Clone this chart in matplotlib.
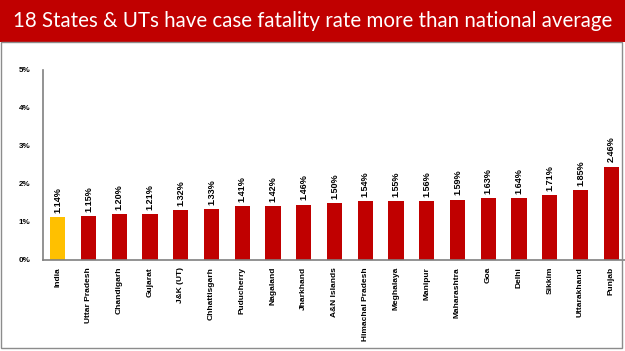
import matplotlib
matplotlib.use("Agg")
import matplotlib.pyplot as plt
from matplotlib.patches import Rectangle

categories = ["India", "Uttar Pradesh", "Chandigarh", "Gujarat", "J&K (UT)", "Chhattisgarh",
              "Puducherry", "Nagaland", "Jharkhand", "A&N Islands", "Himachal Pradesh",
              "Meghalaya", "Manipur", "Maharashtra", "Goa", "Delhi", "Sikkim",
              "Uttarakhand", "Punjab"]
values = [1.14, 1.15, 1.20, 1.21, 1.32, 1.33, 1.41, 1.42, 1.46, 1.50, 1.54,
          1.55, 1.56, 1.59, 1.63, 1.64, 1.71, 1.85, 2.46]
yticks = [0, 1, 2, 3, 4, 5]
title = "18 States & UTs have case fatality rate more than national average"

W, H = 625, 351
fig = plt.figure(figsize=(W / 100, H / 100), dpi=100)
fig.patch.set_facecolor("white")

# banner
fig.patches.append(Rectangle((0, 1 - 42 / H), 1, 42 / H, transform=fig.transFigure,
                             facecolor="#C00000", edgecolor="none", zorder=0))
# gray frame
fig.patches.append(Rectangle((1.5 / W, 3 / H), 620 / W, (H - 42 - 3) / H, transform=fig.transFigure,
                             facecolor="none", edgecolor="#8C8C8C", linewidth=1.0, zorder=1))
fig.text(0.5, 1 - 21 / H, title, color="white", fontsize=14.8, family="Lato",
         ha="center", va="center")

ax = fig.add_axes([43 / W, (H - 260) / H, (626 - 43) / W, (260 - 70) / H])
n = len(categories)
colors = ["#FFC000"] + ["#C00000"] * (n - 1)
x = list(range(n))
ax.bar(x, values, width=0.5, color=colors, zorder=2)
ax.set_xlim(-0.48, n - 0.52)
ax.set_ylim(0, 5)
ax.set_yticks(yticks)
ax.set_yticklabels([f"{t}%" for t in yticks], fontsize=5.8, fontweight="bold", family="Liberation Sans")
ax.set_xticks(x)
ax.set_xticklabels(categories, rotation=90, fontsize=6.0, fontweight="bold", family="Liberation Sans")
ax.tick_params(axis="both", length=0)
ax.tick_params(axis="x", pad=5)
ax.tick_params(axis="y", pad=9)
for s in ["top", "right"]:
    ax.spines[s].set_visible(False)
for s in ["left", "bottom"]:
    ax.spines[s].set_color("#808080")
    ax.spines[s].set_linewidth(1.2)
ax.set_facecolor("none")
for xi, v in zip(x, values):
    ax.annotate(f"{v:.2f}%", (xi, v), xytext=(0, 3), textcoords="offset points",
                rotation=90, ha="center", va="bottom", fontsize=6.5, fontweight="bold",
                family="Liberation Sans")

fig.savefig("out.png", dpi=100)
